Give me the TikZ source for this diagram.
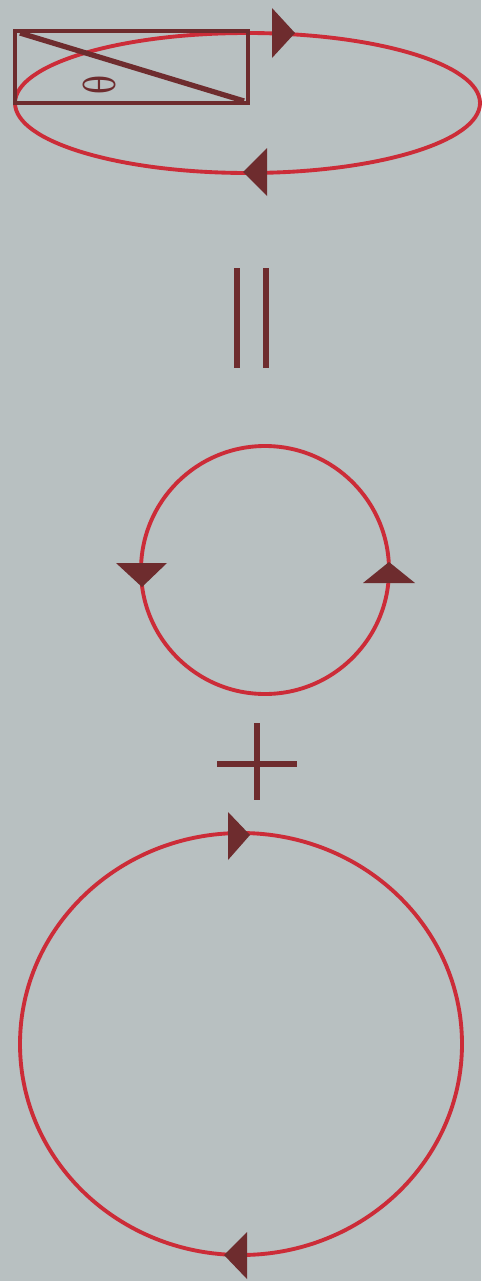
\documentclass[tikz,border=0pt]{standalone}
\usepackage{fontspec}
\newfontfamily\greekfont{DejaVu Serif}
\definecolor{bgray}{RGB}{184,192,193}
\definecolor{loopred}{RGB}{204,44,56}
\definecolor{darkbrown}{RGB}{110,44,46}
\begin{document}
\begin{tikzpicture}[x=0.02cm, y=-0.02cm,
    loop/.style={draw=loopred, line width=2.2pt},
    tip/.style={fill=darkbrown},
    sign/.style={draw=darkbrown, line width=3.4pt}]
        \fill[bgray] (0,0) rectangle (481,1281);

        % 1. flat loop with the tilted strip
        \draw[loop] (247.5,103) ellipse [x radius=232.5, y radius=70];
        \draw[darkbrown, line width=2.5pt] (15,31) rectangle (248,103);
        \draw[darkbrown, line width=3pt] (20,33) -- (244,101);
        \node[rotate=90, inner sep=0pt, text=darkbrown, font=\greekfont\fontsize{24}{24}\selectfont] (theta) at (99,85) {\scalebox{0.75}[1]{θ}};
        \fill[tip] (272,8) -- (295,33) -- (272,58) -- cycle;
        \fill[tip] (267,148) -- (243,172) -- (267,196) -- cycle;

        % equals, turned on its side
        \draw[sign] (237,268) -- (237,368);
        \draw[sign] (266,268) -- (266,368);

        % 2. small loop
        \draw[loop] (265,570) circle [radius=124];
        \fill[tip] (116,563) -- (167,563) -- (142,587) -- cycle;
        \fill[tip] (363,583) -- (415,583) -- (389,562) -- cycle;

        % plus
        \draw[sign] (257,723) -- (257,800);
        \draw[sign] (217,764) -- (297,764);

        % 3. large loop
        \draw[loop] (241,1044) ellipse [x radius=221, y radius=211];
        \fill[tip] (228,812) -- (250,835) -- (228,860) -- cycle;
        \fill[tip] (247,1232) -- (224,1255) -- (247,1279) -- cycle;
\end{tikzpicture}
\end{document}
